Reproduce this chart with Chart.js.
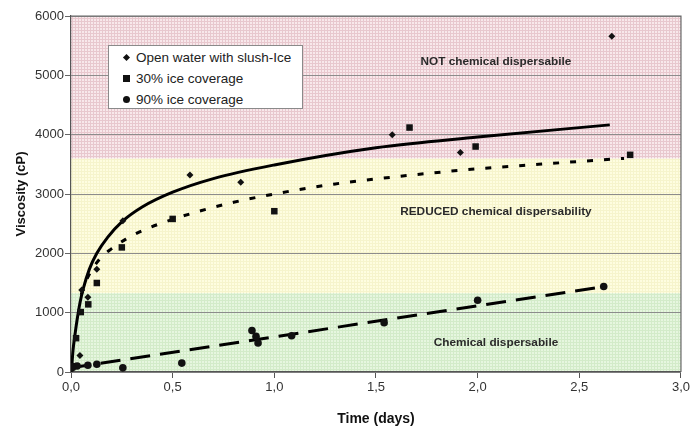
<!DOCTYPE html>
<html>
<head>
<meta charset="utf-8">
<script src="https://cdn.jsdelivr.net/npm/chart.js@4.4.1/dist/chart.umd.min.js"></script>
<style>
  html, body { margin: 0; padding: 0; background: #fff; }
  #wrap { position: relative; width: 692px; height: 428px; font-family: "Liberation Sans", Arial, sans-serif; }
  #legend { position: absolute; left: 108px; top: 45px; width: 193px; height: 62px; background: #fff; border: 1px solid #8a8a8a; }
  .row { position: absolute; left: 27px; font-size: 13.5px; color: #222; line-height: 16px; white-space: nowrap; }
  .mk { position: absolute; background: #111; }
  .dia { width: 5px; height: 5px; transform: rotate(45deg); left: -12px; top: 5px; }
  .sq { width: 7px; height: 7px; left: -13px; top: 4px; }
  .ci { width: 7px; height: 7px; border-radius: 50%; left: -13px; top: 4px; }
</style>
</head>
<body>
<div id="wrap">
  <canvas id="viscChart" width="692" height="428"></canvas>
  <div id="legend">
    <div class="row" style="top:4px"><span class="mk dia"></span>Open water with slush-Ice</div>
    <div class="row" style="top:25px"><span class="mk sq"></span>30% ice coverage</div>
    <div class="row" style="top:46px"><span class="mk ci"></span>90% ice coverage</div>
  </div>
</div>
<script>
// measured points
const openX = [0.0, 0.01, 0.044, 0.053, 0.083, 0.127, 0.255, 0.585, 0.835, 0.91, 1.58, 1.915, 2.66];
const openY = [60, 90, 280, 1380, 1260, 1730, 2550, 3320, 3200, 590, 4000, 3700, 5660];

const ice30X = [0.005, 0.025, 0.048, 0.085, 0.127, 0.25, 0.5, 1.0, 1.665, 1.99, 2.75];
const ice30Y = [80, 570, 1010, 1140, 1500, 2100, 2580, 2710, 4120, 3800, 3660];

const ice90X = [0.0, 0.01, 0.03, 0.083, 0.127, 0.255, 0.545, 0.89, 0.91, 0.92, 1.085, 1.54, 2.0, 2.62];
const ice90Y = [60, 90, 100, 115, 130, 70, 150, 700, 600, 490, 610, 830, 1210, 1440];

// trend curves
const fitOpenX = [0.003, 0.01, 0.02, 0.03, 0.045, 0.06, 0.09, 0.127, 0.18, 0.25, 0.35, 0.5, 0.7, 1.0, 1.5, 2.0, 2.65];
const fitOpenY = [50, 370, 640, 880, 1180, 1400, 1730, 2000, 2270, 2530, 2780, 3030, 3260, 3490, 3780, 3960, 4165];

const fit30X = [0.05, 0.083, 0.14, 0.2, 0.27, 0.35, 0.43, 0.6, 0.8, 1.0, 1.3, 1.65, 1.95, 2.3, 2.72];
const fit30Y = [1300, 1600, 1900, 2080, 2240, 2380, 2490, 2680, 2860, 3000, 3170, 3310, 3410, 3500, 3600];

const fit90X = [0.0, 2.62];
const fit90Y = [70, 1440];

// dispersability zones (lower limits and labels)
const zoneLimits = [0, 1330, 3600, 6000];
const zoneLabels = ['Chemical dispersabile', 'REDUCED chemical dispersability', 'NOT chemical dispersabile'];
const zoneLabelX = [2.09, 2.09, 2.09];
const zoneLabelY = [490, 2700, 5230];

const xTicks = [0, 0.5, 1, 1.5, 2, 2.5, 3];

const pts = (xs, ys) => xs.map((x, i) => ({ x: x, y: ys[i] }));

function makePattern(base, line) {
  const c = document.createElement('canvas');
  c.width = 3; c.height = 3;
  const g = c.getContext('2d');
  g.fillStyle = base;
  g.fillRect(0, 0, 3, 3);
  g.fillStyle = line;
  g.fillRect(0, 0, 3, 1);
  g.fillRect(0, 0, 1, 3);
  return g;
}

const zoneFills = [
  ['#e6f6df', '#d3ebc9'],
  ['#fefde0', '#f6f4cc'],
  ['#f8e8eb', '#e8c8ce']
];

const zonesPlugin = {
  id: 'zones',
  beforeDraw(chart) {
    const { ctx, chartArea: a, scales: { y } } = chart;
    ctx.save();
    for (let i = 0; i < zoneLabels.length; i++) {
      const top = y.getPixelForValue(zoneLimits[i + 1]);
      const bot = y.getPixelForValue(zoneLimits[i]);
      const p = makePattern(zoneFills[i][0], zoneFills[i][1]);
      ctx.fillStyle = ctx.createPattern(p.canvas, 'repeat');
      ctx.fillRect(a.left, top, a.right - a.left, bot - top);
    }
    ctx.restore();
  },
  beforeDatasetsDraw(chart) {
    const { ctx, scales: { x, y } } = chart;
    ctx.save();
    ctx.font = 'bold 11.8px "Liberation Sans", Arial, sans-serif';
    ctx.fillStyle = '#2a2a2a';
    ctx.textAlign = 'center';
    ctx.textBaseline = 'middle';
    zoneLabels.forEach((t, i) => {
      ctx.fillText(t, x.getPixelForValue(zoneLabelX[i]), y.getPixelForValue(zoneLabelY[i]));
    });
    ctx.restore();
  },
  afterDraw(chart) {
    const { ctx, chartArea: a } = chart;
    ctx.save();
    ctx.strokeStyle = '#666';
    ctx.lineWidth = 1.2;
    ctx.beginPath();
    ctx.moveTo(a.left, a.top);
    ctx.lineTo(a.right, a.top);
    ctx.lineTo(a.right, a.bottom);
    ctx.stroke();
    ctx.restore();
  }
};

const tickFont = { family: '"Liberation Sans", Arial, sans-serif', size: 13 };

new Chart(document.getElementById('viscChart'), {
  type: 'scatter',
  data: {
    datasets: [
      {
        label: 'Open water with slush-Ice',
        data: pts(openX, openY),
        pointStyle: 'rectRot',
        pointRadius: 3.5,
        backgroundColor: '#111',
        borderColor: '#111',
        borderWidth: 0,
        order: 1
      },
      {
        label: '30% ice coverage',
        data: pts(ice30X, ice30Y),
        pointStyle: 'rect',
        pointRadius: 4.6,
        backgroundColor: '#111',
        borderColor: '#111',
        borderWidth: 0,
        order: 1
      },
      {
        label: '90% ice coverage',
        data: pts(ice90X, ice90Y),
        pointStyle: 'circle',
        pointRadius: 3.8,
        backgroundColor: '#111',
        borderColor: '#111',
        borderWidth: 0,
        order: 1
      },
      {
        label: 'fit open',
        data: pts(fitOpenX, fitOpenY),
        showLine: true,
        pointRadius: 0,
        borderColor: '#000',
        borderWidth: 3,
        cubicInterpolationMode: 'monotone',
        order: 2
      },
      {
        label: 'fit 30',
        data: pts(fit30X, fit30Y),
        showLine: true,
        pointRadius: 0,
        borderColor: '#000',
        borderWidth: 3,
        borderDash: [6, 11],
        cubicInterpolationMode: 'monotone',
        order: 2
      },
      {
        label: 'fit 90',
        data: pts(fit90X, fit90Y),
        showLine: true,
        pointRadius: 0,
        borderColor: '#000',
        borderWidth: 3,
        borderDash: [20, 10],
        order: 2
      }
    ]
  },
  options: {
    responsive: false,
    animation: false,
    layout: { padding: { top: 16, right: 10, left: 0, bottom: 0 } },
    plugins: {
      legend: { display: false },
      tooltip: { enabled: false }
    },
    scales: {
      x: {
        type: 'linear',
        min: 0,
        max: 3,
        afterBuildTicks: scale => { scale.ticks = xTicks.map(v => ({ value: v })); },
        afterFit: scale => { scale.height = 56; },
        ticks: {
          font: tickFont,
          color: '#333',
          padding: 2,
          callback: v => v.toFixed(1).replace('.', ',')
        },
        grid: { drawOnChartArea: false, tickLength: 6, tickColor: '#555' },
        border: { color: '#555', width: 1.2 },
        title: {
          display: true,
          text: 'Time (days)',
          color: '#111',
          font: { family: '"Liberation Sans", Arial, sans-serif', size: 14, weight: 'bold' },
          padding: { top: 0, bottom: 0 }
        }
      },
      y: {
        min: 0,
        max: 6000,
        afterFit: scale => { scale.width = 71; },
        ticks: { stepSize: 1000, font: tickFont, color: '#333', padding: 1, callback: v => String(v) },
        grid: { color: '#8c8c8c', lineWidth: 1, tickLength: 6, tickColor: '#666' },
        border: { color: '#555', width: 1.2 },
        title: {
          display: true,
          text: 'Viscosity (cP)',
          color: '#111',
          font: { family: '"Liberation Sans", Arial, sans-serif', size: 13, weight: 'bold' },
          padding: { top: 14, bottom: 0 }
        }
      }
    }
  },
  plugins: [zonesPlugin]
});
</script>
</body>
</html>
